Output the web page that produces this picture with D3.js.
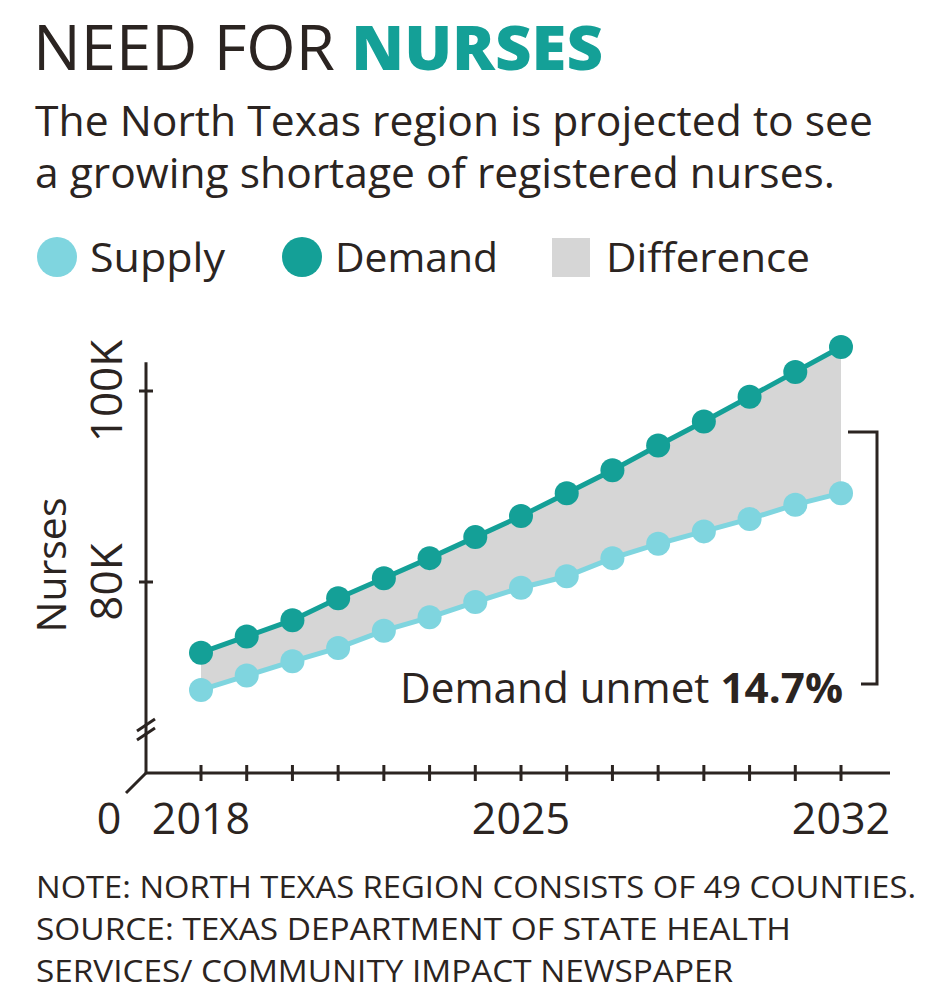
<html lang="en-US">
<head>
<meta charset="utf-8">
<script src="https://d3js.org/d3.v7.min.js"></script>
<style>
  body { margin: 0; background: #fff; }
  text { font-family: "Open Sans", "Noto Sans", sans-serif; fill: #2b2421; }
</style>
</head>
<body>
<svg id="chart" width="950" height="1000"></svg>
<script>
// data (thousands of nurses)
var years = [2018, 2019, 2020, 2021, 2022, 2023, 2024, 2025, 2026, 2027, 2028, 2029, 2030, 2031, 2032];
var supply = [68.7, 70.2, 71.7, 73.1, 74.9, 76.3, 77.9, 79.4, 80.6, 82.5, 84.0, 85.3, 86.6, 88.1, 89.3];
var demand = [72.6, 74.3, 76.0, 78.3, 80.4, 82.5, 84.7, 86.9, 89.3, 91.7, 94.3, 96.8, 99.4, 102.0, 104.6];
var yTicks = [80, 100];
var xLabels = [2018, 2025, 2032];
var unmetLabel = "14.7%";

var teal = "#14a097", light = "#7fd5df", grey = "#d6d6d6", ink = "#2b2421";

var svg = d3.select("#chart");
svg.append("rect").attr("width", 950).attr("height", 1000).attr("fill", "#fff");

var xScale = d3.scaleLinear().domain([2018, 2032]).range([201, 841]);
var yScale = d3.scaleLinear().domain([80, 100]).range([582, 391]);
var axisX = 146, axisBottomY = 773;

// title
var title = svg.append("text").attr("x", 33).attr("y", 70).attr("font-size", 62);
title.append("tspan").text("NEED FOR ").attr("font-weight", 400);
title.append("tspan").text("NURSES").attr("font-weight", 800).style("fill", teal);
title.attr("textLength", 570).attr("lengthAdjust", "spacingAndGlyphs");

svg.append("text").attr("x", 35).attr("y", 136).attr("font-size", 42)
   .attr("textLength", 838).attr("lengthAdjust", "spacingAndGlyphs")
   .text("The North Texas region is projected to see");
svg.append("text").attr("x", 35).attr("y", 188).attr("font-size", 42)
   .attr("textLength", 800).attr("lengthAdjust", "spacingAndGlyphs")
   .text("a growing shortage of registered nurses.");

// legend
svg.append("circle").attr("cx", 57).attr("cy", 257).attr("r", 20).attr("fill", light);
svg.append("text").attr("x", 90).attr("y", 272).attr("font-size", 41)
   .attr("textLength", 135).attr("lengthAdjust", "spacingAndGlyphs").text("Supply");
svg.append("circle").attr("cx", 302).attr("cy", 257).attr("r", 20).attr("fill", teal);
svg.append("text").attr("x", 335).attr("y", 272).attr("font-size", 41)
   .attr("textLength", 163).attr("lengthAdjust", "spacingAndGlyphs").text("Demand");
svg.append("rect").attr("x", 552).attr("y", 238).attr("width", 38).attr("height", 39).attr("fill", grey);
svg.append("text").attr("x", 606).attr("y", 272).attr("font-size", 41)
   .attr("textLength", 204).attr("lengthAdjust", "spacingAndGlyphs").text("Difference");

// difference area
svg.append("path")
   .datum(years.map(function(y, i) { return {year: y, s: supply[i], d: demand[i]}; }))
   .attr("fill", grey)
   .attr("d", d3.area()
      .x(function(d) { return xScale(d.year); })
      .y0(function(d) { return yScale(d.s); })
      .y1(function(d) { return yScale(d.d); }));

// axes
var g = svg.append("g").attr("stroke", ink).attr("stroke-width", 3).attr("fill", "none");
g.append("line").attr("x1", axisX).attr("x2", axisX).attr("y1", axisBottomY).attr("y2", yScale(103));
g.append("line").attr("x1", axisX).attr("x2", 890).attr("y1", axisBottomY).attr("y2", axisBottomY);
// zero corner
g.append("line").attr("x1", axisX).attr("y1", axisBottomY).attr("x2", 126).attr("y2", 793);
// break marks
g.append("line").attr("x1", 137).attr("y1", 731).attr("x2", 155).attr("y2", 719);
g.append("line").attr("x1", 137).attr("y1", 740).attr("x2", 155).attr("y2", 728);
// y ticks
yTicks.forEach(function(t) {
  g.append("line").attr("x1", axisX - 7).attr("x2", axisX + 7).attr("y1", yScale(t)).attr("y2", yScale(t));
});
// x ticks
years.forEach(function(yr) {
  g.append("line").attr("x1", xScale(yr)).attr("x2", xScale(yr)).attr("y1", axisBottomY - 8).attr("y2", axisBottomY + 8);
});

// tick labels
yTicks.forEach(function(t) {
  svg.append("text")
     .attr("transform", "translate(" + 122 + "," + yScale(t) + ") rotate(-90)")
     .attr("text-anchor", "middle").attr("font-size", 44)
     .text(t + "K");
});
svg.append("text").attr("transform", "translate(66,565) rotate(-90)")
   .attr("text-anchor", "middle").attr("font-size", 41).text("Nurses");
xLabels.forEach(function(yr) {
  svg.append("text").attr("x", xScale(yr)).attr("y", 834)
     .attr("text-anchor", "middle").attr("font-size", 43).text(yr);
});
svg.append("text").attr("x", 109).attr("y", 834).attr("text-anchor", "middle")
   .attr("font-size", 43).text("0");

// lines and dots
[[supply, light], [demand, teal]].forEach(function(s) {
  var vals = s[0], col = s[1];
  svg.append("path").datum(vals)
     .attr("fill", "none").attr("stroke", col).attr("stroke-width", 5)
     .attr("d", d3.line()
        .x(function(d, i) { return xScale(years[i]); })
        .y(function(d) { return yScale(d); }));
  svg.selectAll(null).data(vals).enter().append("circle")
     .attr("cx", function(d, i) { return xScale(years[i]); })
     .attr("cy", function(d) { return yScale(d); })
     .attr("r", 12).attr("fill", col);
});

// annotation
var ann = svg.append("text").attr("x", 400).attr("y", 703).attr("font-size", 42)
   .attr("textLength", 443).attr("lengthAdjust", "spacingAndGlyphs");
ann.append("tspan").text("Demand unmet ");
ann.append("tspan").attr("font-weight", 700).text(unmetLabel);
svg.append("path")
   .attr("d", "M848,432 H877 V684 H861")
   .attr("fill", "none").attr("stroke", ink).attr("stroke-width", 3);

// notes
var notes = ["NOTE: NORTH TEXAS REGION CONSISTS OF 49 COUNTIES.",
             "SOURCE: TEXAS DEPARTMENT OF STATE HEALTH",
             "SERVICES/ COMMUNITY IMPACT NEWSPAPER"];
var noteWidths = [880, 755, 697];
notes.forEach(function(n, i) {
  svg.append("text").attr("x", 36).attr("y", 898 + i * 42).attr("font-size", 31)
     .attr("textLength", noteWidths[i]).attr("lengthAdjust", "spacingAndGlyphs").text(n);
});
</script>
</body>
</html>
